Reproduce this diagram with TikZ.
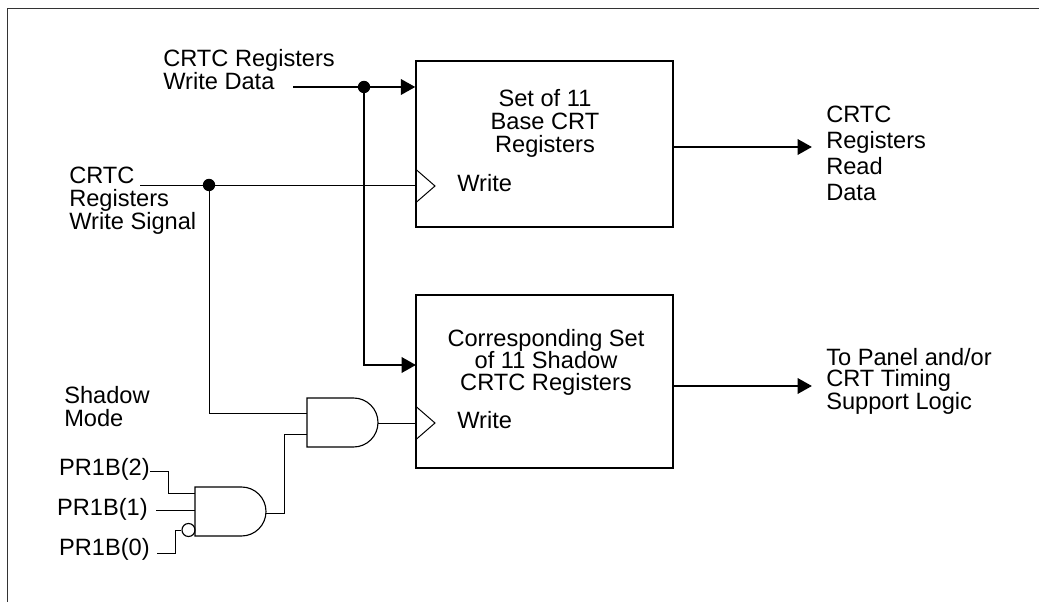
\documentclass[tikz,border=0pt]{standalone}
\usepackage{fontspec}
\setmainfont{Liberation Sans}
\usetikzlibrary{arrows.meta}

\begin{document}
\begin{tikzpicture}[x=0.025cm,y=-0.025cm,
  txt/.style={inner sep=0pt,anchor=base west,align=left,font=\fontsize{16.8}{#1}\selectfont},
  txt/.default=16.4,
  regbox/.style={draw,line width=0.9pt,minimum width=6.425cm,inner sep=0pt},
  bus/.style={line width=2pt},
  sig/.style={line width=0.7pt},
  gate/.style={line width=0.8pt},
  arr/.style={-{Triangle[length=0.36cm,width=0.38cm]}},
  dot/.style={circle,fill,inner sep=0pt,minimum size=0.31cm}]
\useasboundingbox (0,0) rectangle (1039,602);
\draw[line width=0.6pt,black!80] (7,602) -- (7,8) -- (1039,8);

% register boxes
\node[regbox,minimum height=4.15cm] (base) at (544.5,144) {};
\node[regbox,minimum height=4.325cm] (shbox) at (544.5,381.5) {};
\node[txt=16.4,anchor=base,align=center] (basetxt) at (545,153) {Set of 11\\Base CRT\\Registers};
\node[txt=16,anchor=base,align=center] (shtxt) at (546,391) {Corresponding Set\\of 11 Shadow\\CRTC Registers};
\node[txt] (wr1) at (457,192) {Write};
\node[txt] (wr2) at (457,429) {Write};
\draw[sig] (416,169.5) -- (435,186) -- (416,202.5);
\draw[sig] (416,406.5) -- (435,423) -- (416,439.5);
\coordinate (clk1) at (416,185);
\coordinate (clk2) at (416,423);

% labels
\node[txt=15.65] (wdtxt) at (163,90) {CRTC Registers\\Write Data};
\node[txt=16.7] (wstxt) at (69,230) {CRTC\\Registers\\Write Signal};
\node[txt=16.4] (smtxt) at (64,427) {Shadow\\Mode};
\node[txt,anchor=base east] (p2) at (150,476) {PR1B(2)};
\node[txt,anchor=base east] (p1) at (148,515) {PR1B(1)};
\node[txt,anchor=base east] (p0) at (150,555) {PR1B(0)};
\node[txt=18.5] (rdtxt) at (826,201) {CRTC\\Registers\\Read\\Data};
\node[txt=15.3] (pntxt) at (826,410) {To Panel and/or\\CRT Timing\\Support Logic};

% write data bus
\coordinate (wdin) at (293,87);
\node[dot] (dd) at (364,87) {};
\coordinate (shin) at (416,365);
\draw[bus,arr] (wdin) -- (wdin -| base.west);
\draw[bus,arr] (dd.center) |- (shin);

% write signal
\coordinate (wsin) at (140,185);
\node[dot] (ws) at (209,185) {};
\draw[sig] (wsin) -- (clk1);

% gates
\draw[gate] (307,398) -- (353.5,398) arc[start angle=-90,end angle=90,radius=24.5] -- (307,447) -- cycle;
\draw[gate] (195,487) -- (241.5,487) arc[start angle=-90,end angle=90,radius=24.5] -- (195,536) -- cycle;
\coordinate (g1a) at (307,413);
\coordinate (g1b) at (307,434);
\coordinate (g1out) at (378,423);
\coordinate (g2a) at (195,493);
\coordinate (g2b) at (195,510);
\coordinate (g2out) at (266,513);
\node[circle,draw,gate,inner sep=0pt,minimum size=0.325cm] (inv) at (188.5,530) {};

\draw[sig] (ws.center) |- (g1a);
\draw[sig] (g1out) -- (clk2);
\draw[sig] (g2out) -- ++(18,0) |- (g1b);
\draw[sig] (p2.east |- 0,471) -- ++(18,0) |- (g2a);
\draw[sig] (p1.east |- 0,510) ++(8,0) -- (g2b);
\draw[sig] (p0.east |- 0,553) ++(7,0) -- ++(18,0) |- (inv.west);

% outputs
\coordinate (rdout) at (812,147);
\coordinate (pnout) at (812,386);
\draw[bus,arr] (rdout -| base.east) -- (rdout);
\draw[bus,arr] (pnout -| shbox.east) -- (pnout);
\end{tikzpicture}
\end{document}
